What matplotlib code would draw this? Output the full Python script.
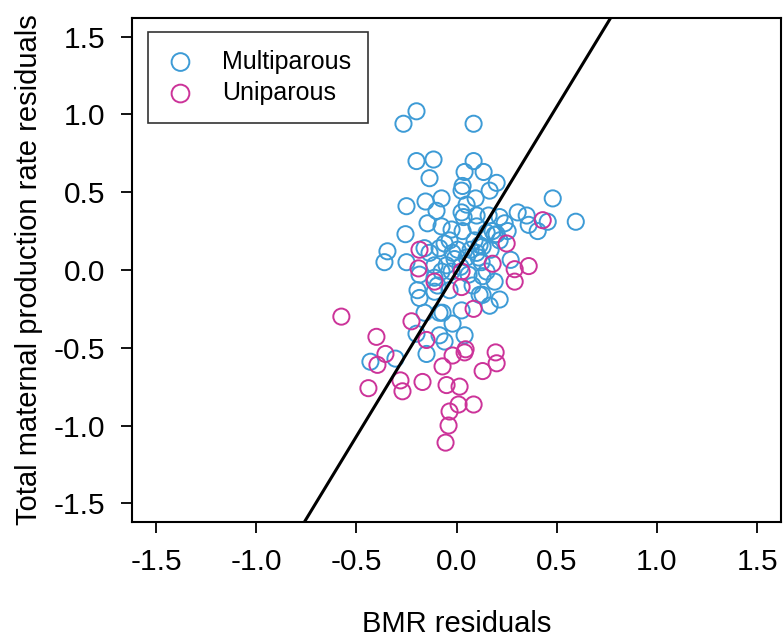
import numpy as np
import matplotlib
matplotlib.use('Agg')
import matplotlib.pyplot as plt

plt.rcParams['font.family'] = ['Liberation Sans', 'DejaVu Sans']

# residuals
multi_x = [-0.265, -0.20, 0.085, -0.20, -0.115, 0.085, -0.135, 0.04, 0.135, 0.20,
           0.03, 0.025, 0.165, 0.095, 0.48, -0.25, -0.155, -0.075, 0.05, -0.10,
           0.025, 0.035, 0.16, 0.305, 0.35, 0.36, 0.405, 0.595, 0.455, -0.145,
           -0.075, -0.025, 0.03, 0.10, 0.215, 0.24, 0.255, -0.255, 0.20, 0.15,
           0.19, 0.215, -0.345, -0.36, -0.25, -0.135, -0.085, -0.06, -0.035, 0.005,
           -0.11, -0.05, -0.01, 0.05, 0.10, 0.125, 0.115, 0.13, 0.27, 0.19,
           0.15, 0.13, 0.13, 0.215, -0.185, -0.11, -0.075, -0.025, -0.095, -0.11,
           -0.195, -0.185, -0.035, 0.08, 0.115, -0.16, -0.085, -0.07, 0.025, 0.165,
           -0.02, 0.04, -0.06, -0.085, -0.20, -0.15, -0.305, -0.43, 0.07, 0.09,
           0.17, 0.11, -0.16, -0.02, 0.02, 0.06, 0.18, 0.10]
multi_y = [0.94, 1.02, 0.94, 0.70, 0.71, 0.70, 0.59, 0.63, 0.63, 0.56,
           0.54, 0.51, 0.51, 0.46, 0.46, 0.41, 0.44, 0.46, 0.42, 0.38,
           0.37, 0.34, 0.35, 0.37, 0.35, 0.29, 0.25, 0.31, 0.31, 0.30,
           0.28, 0.26, 0.25, 0.28, 0.34, 0.30, 0.25, 0.23, 0.23, 0.24,
           0.226, 0.19, 0.12, 0.05, 0.05, 0.11, 0.14, 0.17, 0.19, 0.13,
           0.03, 0.03, 0.07, 0.08, 0.11, 0.05, 0.16, 0.15, 0.065, -0.075,
           -0.01, -0.04, -0.16, -0.19, -0.03, -0.05, -0.01, -0.01, -0.10, -0.14,
           -0.13, -0.18, -0.13, -0.10, -0.16, -0.275, -0.275, -0.275, -0.26, -0.23,
           -0.345, -0.42, -0.46, -0.42, -0.41, -0.54, -0.57, -0.59, 0.13, 0.19,
           0.13, 0.08, 0.14, 0.11, 0.02, -0.03, 0.25, 0.35]

uni_x = [-0.575, -0.40, -0.355, -0.395, -0.44, -0.28, -0.27, -0.17, -0.225, -0.15,
         -0.07, -0.02, 0.045, 0.04, -0.05, 0.015, -0.035, 0.01, 0.085, -0.04,
         -0.055, 0.13, 0.20, 0.195, 0.085, 0.025, -0.11, 0.025, 0.18, 0.29,
         0.36, 0.29, 0.25, -0.185, 0.43, -0.19]
uni_y = [-0.30, -0.43, -0.54, -0.61, -0.76, -0.71, -0.78, -0.72, -0.33, -0.45,
         -0.62, -0.55, -0.51, -0.53, -0.74, -0.75, -0.91, -0.865, -0.865, -1.00,
         -1.11, -0.65, -0.60, -0.53, -0.25, -0.11, -0.075, -0.01, 0.04, 0.005,
         0.025, -0.075, 0.17, 0.13, 0.32, 0.01]

# fitted line
slope = 2.12
intercept = -0.01

ticks = [-1.5, -1.0, -0.5, 0.0, 0.5, 1.0, 1.5]
blue = '#3d9bd6'
pink = '#cc3399'

fig = plt.figure(figsize=(7.83, 6.42), dpi=100)
ax = fig.add_axes([0.1686, 0.187, 0.829, 0.785])

ax.scatter(multi_x, multi_y, s=135, facecolors='none', edgecolors=blue,
           linewidths=1.4, label='Multiparous', zorder=3)
ax.scatter(uni_x, uni_y, s=135, facecolors='none', edgecolors=pink,
           linewidths=1.4, label='Uniparous', zorder=3)

xs = np.linspace(-1.62, 1.62, 50)
ax.plot(xs, intercept + slope * xs, color='black', lw=2.2, zorder=4)

ax.set_xlim(-1.62, 1.62)
ax.set_ylim(-1.62, 1.62)
ax.set_xticks(ticks)
ax.set_yticks(ticks)
ax.set_xticklabels([f'{t:.1f}' for t in ticks])
ax.set_yticklabels([f'{t:.1f}' for t in ticks])
ax.tick_params(direction='out', length=8, width=1.3, labelsize=21.5, pad=11)
for sp in ax.spines.values():
    sp.set_linewidth(1.5)

ax.set_xlabel('BMR residuals', fontsize=21, labelpad=24)
ax.set_ylabel('Total maternal production rate residuals', fontsize=21, labelpad=8)

leg = ax.legend(loc='upper left', bbox_to_anchor=(0.0246, 0.972), borderaxespad=0,
                fontsize=18, frameon=True, fancybox=False, edgecolor='black',
                handlelength=1.2, handletextpad=1.05, borderpad=0.7,
                labelspacing=0.3, markerscale=1.1)
leg.get_frame().set_linewidth(1.2)

fig.savefig('out.png', dpi=100)
